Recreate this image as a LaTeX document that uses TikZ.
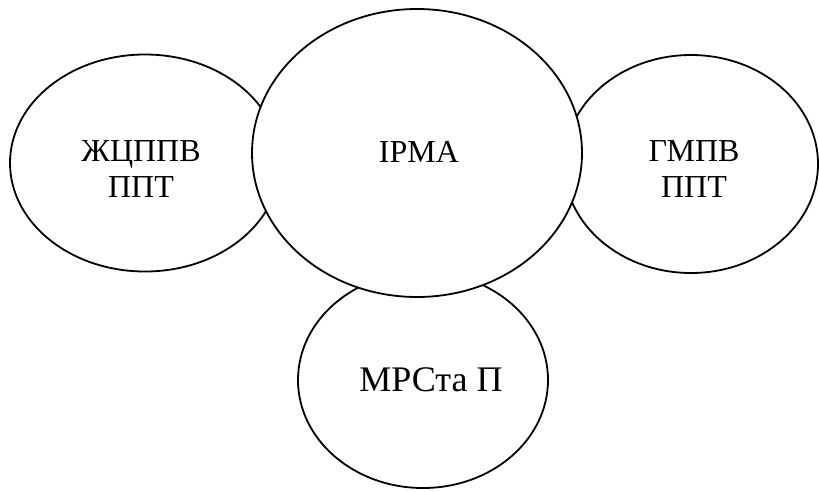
\documentclass[tikz,border=0pt]{standalone}
\usepackage{fontspec}
\setmainfont{Liberation Serif}
\usetikzlibrary{shapes.geometric}

\begin{document}
\begin{tikzpicture}[x=1pt,y=-1pt,
  blob/.style={draw,ellipse,line width=1.8pt,fill=white,inner sep=0pt},
  word/.style={align=center,inner sep=0pt,font=\fontsize{32}{36}\selectfont}]
\useasboundingbox (0,0) rectangle (819,491);
\node[blob,minimum width=270pt,minimum height=217pt] (zhc) at (145,163) {};
\node[blob,minimum width=254pt,minimum height=218pt] (gmpv) at (691,164) {};
\node[blob,minimum width=250pt,minimum height=216pt] (mrsta) at (423,380) {};
\node[blob,minimum width=330pt,minimum height=288pt] (irma) at (417,153) {};
\node[word] (zhct) at (141,169) {ЖЦППВ\\ППТ};
\node[word] (gmpvt) at (694,169) {ГМПВ\\ППТ};
\node[word,font=\fontsize{36}{40}\selectfont] (mrstat) at (431,380) {МРСта П};
\node[word] (irmat) at (419,152) {ІРМА};
\end{tikzpicture}
\end{document}
